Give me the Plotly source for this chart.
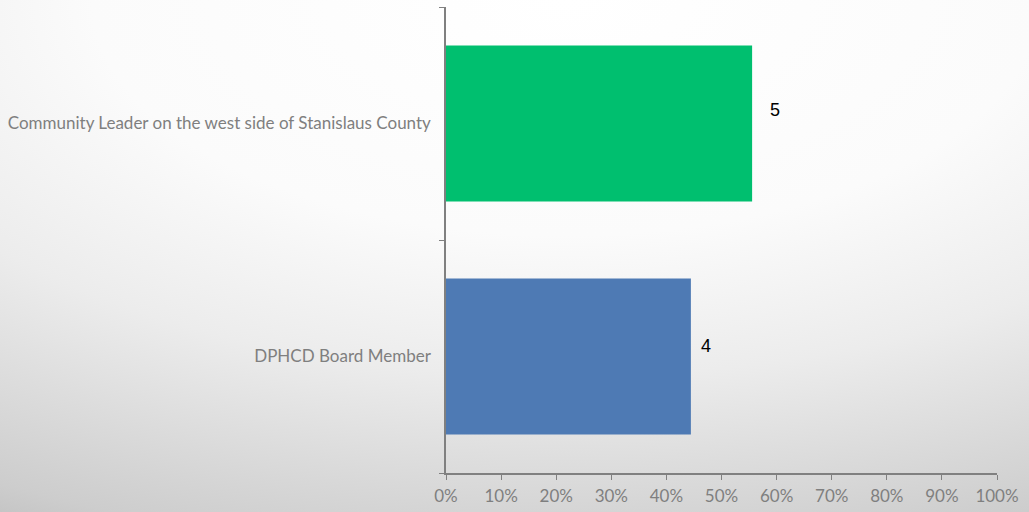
import base64
import plotly.graph_objects as go

# Survey responses: respondent role and count
categories = ["DPHCD Board Member", "Community Leader on the west side of Stanislaus County"]
counts = [4, 5]
bar_colors = ["#4e7ab4", "#00bf6f"]

total = sum(counts)
shares = [c / total for c in counts]

W, H = 1029, 512
L, R, T, B = 446, 32, 7, 39
pw, ph = W - L - R, H - T - B

# soft grey radial backdrop
svg = f"""<svg xmlns='http://www.w3.org/2000/svg' width='{W}' height='{H}' preserveAspectRatio='none'>
<defs><radialGradient id='g' cx='0.55' cy='0' r='1.15' gradientUnits='objectBoundingBox'>
<stop offset='0' stop-color='#ffffff'/>
<stop offset='0.4' stop-color='#fbfbfb'/>
<stop offset='0.64' stop-color='#ececec'/>
<stop offset='0.95' stop-color='#cdcdcd'/>
<stop offset='1' stop-color='#c4c4c4'/>
</radialGradient></defs>
<rect width='{W}' height='{H}' fill='url(#g)'/></svg>"""
bg_uri = "data:image/svg+xml;base64," + base64.b64encode(svg.encode()).decode()

fig = go.Figure(
    go.Bar(
        y=categories,
        x=shares,
        orientation="h",
        marker=dict(color=bar_colors, line=dict(width=0)),
        width=0.67,
        hoverinfo="skip",
    )
)

for cat, share, cnt, xoff, yoff in zip(categories, shares, counts, [8, 16], [11, 14]):
    fig.add_annotation(
        x=share, y=cat, text=str(cnt), showarrow=False,
        xanchor="left", xshift=xoff, yshift=yoff,
        font=dict(family="Liberation Sans, Arial", size=18, color="#000000"),
    )

fig.add_layout_image(
    source=bg_uri, xref="paper", yref="paper",
    x=-L / pw, y=1 + T / ph, sizex=W / pw, sizey=H / ph,
    xanchor="left", yanchor="top", sizing="stretch", layer="below",
)

fig.update_layout(
    width=W, height=H,
    margin=dict(l=L, r=R, t=T, b=B, pad=0),
    paper_bgcolor="#ffffff",
    plot_bgcolor="rgba(0,0,0,0)",
    showlegend=False,
    xaxis=dict(
        range=[0, 1], tickvals=[i / 10 for i in range(11)],
        tickformat=".0%", showgrid=False, zeroline=False,
        showline=True, linecolor="#808080", linewidth=1.5,
        ticks="outside", ticklen=5, tickcolor="#808080",
        tickfont=dict(family="Lato, sans-serif", size=17, color="#7f7f7f"),
        ticklabelstandoff=2, fixedrange=True,
    ),
    yaxis=dict(
        type="category", showgrid=False, zeroline=False,
        showline=True, linecolor="#808080", linewidth=1.5,
        ticks="outside", ticklen=5, tickcolor="#808080", tickson="boundaries",
        tickfont=dict(family="Lato, sans-serif", size=17, color="#7f7f7f"),
        ticklabelstandoff=10, fixedrange=True,
    ),
)

fig.write_html("out.html", config={"displayModeBar": False})
